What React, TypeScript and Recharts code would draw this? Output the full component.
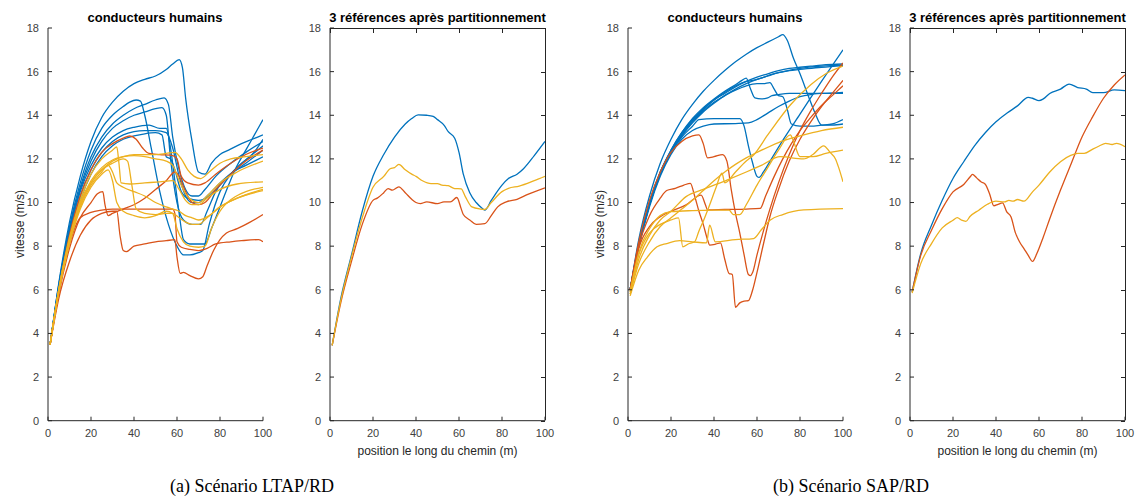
import React from 'react';
import { LineChart, Line, XAxis, YAxis } from 'recharts';

type Pt = [number, number];

const xTicks = [0, 20, 40, 60, 80, 100];
const yTicks = [0, 2, 4, 6, 8, 10, 12, 14, 16, 18];

// ---------- (a) LTAP/RD : conducteurs humains ----------
const ltapB1: Pt[] = [[1,3.5],[5,6.3],[10,9.1],[15,11.2],[20,12.8],[25,13.9],[30,14.6],[35,15.1],[40,15.45],[45,15.65],[50,15.8],[55,16.1],[58,16.35],[61,16.55],[62.5,16.2],[64,14.8],[67,12.8],[70,11.4],[73,11.3],[76,11.8],[80,12.2],[84,12.4],[90,12.7],[95,12.9],[100,13.1]];
const ltapB2: Pt[] = [[1,3.5],[5,6.2],[10,8.9],[15,10.9],[20,12.4],[25,13.4],[30,14.0],[35,14.4],[38,14.6],[41,14.7],[43,14.65],[45,14.0],[48,12.5],[52,10.5],[56,9.0],[60,8.0],[63,7.6],[66,7.6],[70,7.7],[72,7.8],[75,9.0],[80,10.5],[85,11.3],[90,11.8],[95,12.2],[100,12.9]];
const ltapB3: Pt[] = [[1,3.5],[5,6.2],[10,8.8],[15,10.7],[20,12.1],[25,13.0],[30,13.6],[35,14.0],[40,14.3],[45,14.5],[50,14.7],[54,14.8],[56,14.5],[58,13.0],[61,11.5],[64,10.6],[67,10.3],[70,10.3],[73,10.6],[78,11.2],[85,11.8],[92,12.3],[100,12.8]];
const ltapB4: Pt[] = [[1,3.5],[5,6.1],[10,8.7],[15,10.6],[20,11.9],[25,12.8],[30,13.4],[35,13.75],[40,14.0],[45,14.15],[50,14.3],[53,14.35],[55,14.0],[57,12.0],[60,10.0],[63,9.2],[67,9.0],[71,9.0],[74,9.6],[78,10.5],[85,11.3],[92,11.8],[100,12.4]];
const ltapB5: Pt[] = [[1,3.5],[5,6.1],[10,8.6],[15,10.5],[20,11.7],[25,12.5],[30,13.0],[35,13.3],[40,13.45],[47,13.55],[52,13.4],[55,13.4],[57,12.5],[59,11.0],[61,9.5],[63,8.3],[66,8.1],[73,8.1],[76,8.8],[80,9.8],[84,10.8],[87,11.5],[92,12.4],[96,13.1],[100,13.8]];
const ltapB6: Pt[] = [[1,3.5],[5,6.0],[10,8.5],[15,10.3],[20,11.5],[25,12.3],[30,12.8],[35,13.1],[40,13.25],[45,13.3],[50,13.3],[55,13.2],[58,12.5],[61,11.2],[64,10.3],[67,10.0],[70,10.0],[74,10.3],[80,10.9],[86,11.4],[92,11.7],[100,12.1]];
const ltapB7: Pt[] = [[1,3.5],[5,6.0],[10,8.4],[15,10.1],[20,11.3],[25,12.1],[30,12.6],[35,12.9],[40,13.05],[45,13.15],[50,13.2],[53,13.1],[55,12.1],[57,12.0],[59,11.5],[62,10.5],[65,10.2],[70,10.1],[75,10.3],[80,10.8],[88,11.6],[95,12.2],[100,12.6]];

const ltapO1: Pt[] = [[1,3.5],[5,6.0],[10,8.5],[15,10.3],[20,11.5],[25,12.3],[30,12.7],[35,12.95],[38,13.05],[41,12.9],[44,12.5],[47,12.25],[52,12.2],[58,12.15],[60,12.0],[62,11.2],[65,10.9],[70,10.8],[73,10.9],[78,11.3],[85,11.8],[92,12.2],[100,12.5]];
const ltapO2: Pt[] = [[1,3.5],[5,5.8],[10,7.9],[15,9.3],[20,10.0],[23,10.4],[25.5,10.5],[26.5,9.9],[28,9.4],[30,9.5],[35,9.7],[40,9.9],[45,10.2],[50,10.6],[55,11.0],[59,11.4],[61,11.2],[64,10.5],[67,10.0],[70,9.9],[73,10.0],[78,10.6],[85,11.3],[92,11.9],[100,12.4]];
const ltapO3: Pt[] = [[1,3.5],[5,5.6],[10,7.3],[15,8.5],[20,9.2],[25,9.5],[30,9.6],[32,9.6],[33.5,8.5],[35,7.8],[36.5,7.75],[40,8.0],[45,8.1],[50,8.2],[55,8.25],[59,8.3],[60,7.5],[61.5,6.75],[63,6.8],[66,6.65],[70,6.5],[72,6.6],[74,7.1],[77,7.8],[80,8.3],[83,8.6],[88,8.8],[94,9.1],[100,9.45]];
const ltapO4: Pt[] = [[1,3.5],[5,5.9],[10,8.1],[15,9.3],[20,9.55],[25,9.65],[30,9.7],[40,9.7],[50,9.7],[58,9.7],[59,9.5],[60,8.2],[62,7.95],[66,7.85],[70,7.8],[74,7.9],[78,8.1],[85,8.2],[90,8.25],[98,8.3],[100,8.2]];

const ltapY1: Pt[] = [[1,3.5],[5,6.0],[10,8.3],[15,9.9],[20,10.9],[25,11.5],[30,11.9],[35,12.1],[40,12.2],[45,12.2],[50,12.2],[55,12.25],[59,12.3],[62,12.0],[65,11.5],[68,11.2],[71,11.1],[75,11.4],[80,11.8],[85,12.0],[92,12.1],[100,12.2]];
const ltapY2: Pt[] = [[1,3.5],[5,6.0],[10,8.4],[15,10.1],[20,11.3],[25,12.0],[30,12.4],[32,12.55],[33,11.8],[34,10.9],[38,10.85],[45,10.9],[52,10.95],[58,11.0],[61,10.6],[64,10.1],[67,9.9],[70,9.9],[74,10.2],[80,10.6],[88,10.85],[100,10.95]];
const ltapY3: Pt[] = [[1,3.5],[5,5.9],[10,8.2],[15,9.9],[20,10.9],[25,11.5],[30,11.8],[35,12.0],[37,11.9],[39,10.8],[41,9.7],[45,9.5],[50,9.45],[55,9.5],[58,9.5],[61,9.3],[64,9.1],[67,9.0],[70,9.0],[74,9.3],[80,9.8],[88,10.2],[100,10.6]];
const ltapY4: Pt[] = [[1,3.5],[5,5.9],[10,8.1],[15,9.7],[20,10.7],[25,11.3],[28,11.5],[30,11.0],[32,10.0],[35,9.6],[40,9.4],[45,9.3],[50,9.4],[55,9.6],[58,9.5],[60,8.8],[63,8.2],[66,8.0],[70,7.95],[73,8.0],[76,8.8],[80,9.6],[86,10.2],[92,10.5],[100,10.7]];
const ltapY5: Pt[] = [[1,3.5],[5,6.0],[10,8.3],[15,10.0],[20,11.0],[25,11.6],[30,11.95],[35,12.1],[40,12.15],[45,12.1],[50,12.0],[55,11.9],[58,11.7],[61,11.0],[64,10.4],[67,10.1],[70,10.0],[74,10.3],[80,10.9],[88,11.4],[100,11.9]];
const ltapY6: Pt[] = [[1,3.5],[5,5.9],[10,8.2],[15,9.8],[20,10.8],[25,11.4],[28,11.7],[30,11.4],[32,10.9],[35,10.7],[40,10.5],[45,10.3],[50,10.0],[55,9.8],[58,9.7],[61,9.6],[64,9.4],[67,9.3],[70,9.2],[75,9.4],[80,9.8],[88,10.2],[100,10.55]];

// ---------- (a) LTAP/RD : 3 références ----------
const ltapRefBlue: Pt[] = [[1,3.45],[5,5.6],[10,7.6],[15,9.6],[20,11.2],[25,12.2],[30,13.0],[35,13.6],[38,13.85],[41,14.02],[45,14.0],[48,13.95],[50,13.8],[53,13.55],[55,13.25],[58,12.95],[60,12.3],[62,11.3],[65,10.45],[68,10.0],[71,9.72],[72,9.65],[75,10.1],[80,10.8],[83,11.1],[87,11.3],[90,11.55],[95,12.15],[100,12.8]];
const ltapRefOrange: Pt[] = [[1,3.45],[5,5.4],[10,7.3],[15,9.0],[20,10.1],[22,10.2],[25,10.45],[27,10.64],[29,10.57],[32,10.72],[35,10.45],[38,10.15],[40,10.0],[42,9.95],[45,10.03],[50,9.95],[53,10.03],[56,10.03],[59,10.23],[61,9.72],[62,9.45],[65,9.2],[68,9.0],[72,9.03],[75,9.4],[78,9.8],[82,10.03],[87,10.15],[92,10.37],[100,10.67]];
const ltapRefYellow: Pt[] = [[1,3.45],[5,5.5],[10,7.5],[15,9.3],[20,10.7],[25,11.2],[28,11.55],[30,11.6],[32,11.75],[35,11.5],[38,11.3],[40,11.2],[43,11.0],[47,10.87],[50,10.87],[52,10.8],[55,10.77],[58,10.64],[61,10.63],[63,10.26],[66,9.8],[70,9.7],[72,9.68],[75,10.0],[80,10.5],[83,10.65],[88,10.75],[95,11.0],[100,11.2]];

// ---------- (b) SAP/RD : conducteurs humains ----------
const sapB1: Pt[] = [[1,6.0],[5,8.3],[10,10.3],[15,11.8],[20,12.9],[25,13.8],[30,14.5],[35,15.1],[40,15.6],[45,16.05],[50,16.45],[55,16.8],[60,17.1],[65,17.35],[70,17.6],[72,17.7],[74,17.45],[77,16.6],[80,15.9],[84,14.85],[87,14.1],[90,13.55],[95,13.55],[100,13.6]];
const sapB2: Pt[] = [[1,6.0],[5,8.1],[10,10.0],[15,11.4],[20,12.4],[25,13.2],[30,13.85],[35,14.35],[40,14.75],[45,15.1],[50,15.4],[53,15.6],[55,15.7],[57,15.2],[59,14.8],[62,14.75],[65,14.8],[67,14.9],[70,14.95],[75,15.0],[80,15.0],[90,15.0],[100,15.05]];
const sapB3: Pt[] = [[1,6.0],[5,8.1],[10,10.0],[15,11.4],[20,12.4],[25,13.2],[30,13.8],[35,14.3],[40,14.7],[45,15.0],[50,15.3],[55,15.55],[60,15.75],[65,15.9],[70,16.05],[75,16.15],[80,16.2],[85,16.25],[90,16.3],[95,16.33],[100,16.35]];
const sapB4: Pt[] = [[1,6.0],[5,8.0],[10,9.9],[15,11.3],[20,12.3],[25,13.1],[30,13.7],[35,14.2],[40,14.6],[45,14.9],[50,15.2],[55,15.45],[60,15.65],[65,15.8],[70,15.95],[75,16.05],[80,16.1],[90,16.2],[100,16.28]];
const sapB5: Pt[] = [[1,6.0],[5,8.0],[10,9.9],[15,11.3],[20,12.3],[25,13.05],[30,13.65],[35,14.15],[40,14.55],[45,14.9],[50,15.15],[55,15.35],[60,15.45],[63,15.45],[66,15.5],[68,15.2],[70,14.9],[72,14.85],[74,14.3],[76,13.6],[80,13.5],[85,13.5],[90,13.55],[95,13.6],[100,13.8]];
const sapB6: Pt[] = [[1,6.0],[5,8.0],[10,9.9],[15,11.3],[20,12.3],[25,13.0],[30,13.5],[33,13.8],[40,13.85],[45,13.85],[52,13.85],[54,13.5],[56,12.6],[58,11.8],[60,11.2],[61,11.15],[63,11.4],[67,12.05],[72,12.85],[80,14.05],[90,15.55],[100,17.0]];
const sapB7: Pt[] = [[1,6.0],[5,7.95],[10,9.8],[15,11.2],[20,12.2],[25,12.9],[30,13.3],[35,13.5],[40,13.6],[50,13.62],[56,13.65],[60,13.8],[65,14.1],[70,14.4],[75,14.65],[80,14.85],[85,14.95],[90,15.0],[100,15.0]];
const sapB8: Pt[] = [[1,6.0],[5,8.05],[10,9.95],[15,11.35],[20,12.35],[25,13.15],[30,13.75],[35,14.25],[40,14.7],[45,15.05],[50,15.35],[55,15.55],[58,15.6],[62,15.7],[66,15.85],[70,15.95],[80,16.15],[90,16.25],[100,16.3]];

const sapO1: Pt[] = [[1,6.0],[5,8.2],[10,10.1],[15,11.4],[20,12.3],[25,12.8],[30,13.05],[33,13.1],[35,12.7],[37,12.05],[40,12.1],[44,12.2],[46,11.9],[48,10.6],[50,9.5],[52,8.6],[54,7.6],[56,6.7],[57,6.65],[58,6.8],[60,7.6],[63,8.7],[66,9.7],[70,10.9],[75,12.2],[80,13.3],[85,14.2],[90,15.0],[95,15.75],[100,16.4]];
const sapO2: Pt[] = [[1,6.0],[5,8.0],[10,9.4],[15,10.2],[18,10.55],[22,10.65],[26,10.8],[29,10.88],[31,10.3],[33,9.6],[35,9.0],[37,8.3],[38,8.05],[41,8.1],[43,8.15],[45,7.4],[47,6.75],[48.5,6.7],[50,5.2],[52,5.4],[54,5.48],[56,5.5],[58,6.0],[60,6.8],[63,8.1],[66,9.35],[70,10.6],[75,11.9],[80,12.9],[85,13.7],[90,14.4],[95,15.0],[100,15.6]];
const sapO3: Pt[] = [[1,6.0],[5,7.9],[10,8.9],[15,9.35],[20,9.6],[27,9.89],[34,10.34],[36,9.9],[37,9.66],[45,9.68],[55,9.7],[61.5,9.73],[64,10.3],[68,11.2],[72,12.0],[76,12.7],[80,13.3],[85,13.9],[90,14.45],[95,14.9],[100,15.35]];

const sapY1: Pt[] = [[1,5.72],[5,6.9],[9,7.5],[13.5,7.97],[18,8.12],[24,8.25],[30,8.2],[36.5,8.15],[38,8.96],[40.6,8.2],[50,8.3],[58.4,8.35],[62,8.75],[66.2,9.2],[72,9.45],[81.7,9.66],[100,9.72]];
const sapY2: Pt[] = [[1,5.9],[5,7.6],[10,8.6],[15,9.0],[20,9.2],[23.5,9.3],[25.5,7.97],[28,8.1],[31,8.2],[33,8.7],[35.2,9.19],[38,9.9],[41,10.7],[43.7,11.35],[45,10.9],[50,11.4],[55,11.9],[58.4,12.18],[65,13.1],[75.5,14.47],[85,15.4],[92,15.9],[100,16.25]];
const sapY3: Pt[] = [[1,5.9],[5,7.7],[10,8.8],[15,9.4],[20,9.58],[30,9.63],[40,9.65],[47,9.65],[49,9.45],[52,9.45],[55,9.9],[60,10.8],[65,11.6],[70,12.4],[75.5,13.1],[77,12.8],[80,12.1],[86,12.1],[92,12.25],[100,12.4]];
const sapY4: Pt[] = [[1,5.8],[5,7.2],[10,8.2],[15,8.9],[20,9.3],[25,9.7],[30,10.1],[35,10.55],[40,11.0],[45,11.4],[50,11.75],[55,12.05],[60,12.3],[70,12.75],[80,13.05],[90,13.3],[100,13.45]];
const sapY5: Pt[] = [[1,5.8],[5,7.4],[10,8.5],[15,9.2],[20,9.6],[27,10.27],[35,10.6],[46,11.03],[55,11.4],[62,11.7],[70.8,12.1],[81.6,12.0],[86,12.2],[91,12.6],[94,12.3],[96.5,12.0],[98,11.6],[100,10.95]];

// ---------- (b) SAP/RD : 3 références ----------
const sapRefBlue: Pt[] = [[1,5.9],[5,7.66],[10,8.96],[15,10.1],[20,11.1],[25,11.87],[30,12.6],[35,13.2],[40,13.7],[45,14.09],[50,14.43],[55,14.82],[57,14.78],[60,14.67],[62,14.75],[65,15.0],[70,15.2],[74,15.43],[78,15.27],[82,15.2],[85,15.04],[90,15.04],[95,15.16],[100,15.13]];
const sapRefOrange: Pt[] = [[1,5.9],[5,7.58],[10,8.73],[15,9.72],[20,10.49],[25,10.83],[28,11.18],[29,11.29],[31,11.13],[33,10.95],[35,10.84],[37,10.4],[39,9.85],[41,9.92],[43,9.98],[45,9.57],[47,9.34],[49,8.62],[51,8.19],[53,7.89],[55,7.58],[57,7.3],[59,7.66],[62,8.42],[65,9.26],[70,10.57],[75,11.79],[80,13.0],[85,13.94],[90,14.78],[95,15.39],[100,15.85]];
const sapRefYellow: Pt[] = [[1,5.85],[5,7.2],[10,8.12],[15,8.84],[20,9.19],[22,9.31],[24,9.19],[26,9.14],[28,9.37],[32,9.65],[36,9.92],[40,10.06],[44,10.03],[46,10.1],[48,10.06],[50,10.14],[53,10.06],[57,10.49],[60,10.8],[65,11.4],[70,11.87],[75,12.17],[78,12.25],[81,12.25],[85,12.45],[88,12.59],[91,12.71],[94,12.66],[96,12.71],[100,12.56]];

const BLUE = '#0072BD';
const ORANGE = '#D95319';
const YELLOW = '#EDB120';
const SANS = '"Liberation Sans", Arial, Helvetica, sans-serif';
const AXIS = '#262626';

// plot-area geometry inside each panel wrapper
const PLOT_X = 40;
const PLOT_Y = 28;
const PLOT_W = 215;
const PLOT_H = 392.7;

const toRows = (p: Pt[]) => p.map(([x, y]) => ({ x, y }));

type PanelProps = { plotLeft: number; blue: Pt[][]; orange: Pt[][]; yellow: Pt[][]; boxed: boolean };

function Panel({ plotLeft, blue, orange, yellow, boxed }: PanelProps) {
  const tickStyle = { fill: '#404040', fontSize: 11, fontFamily: SANS };
  const groups: [string, Pt[][]][] = [[BLUE, blue], [ORANGE, orange], [YELLOW, yellow]];
  const xMax = xTicks[xTicks.length - 1];
  const yMax = yTicks[yTicks.length - 1];
  return (
    <div style={{ position: 'absolute', left: plotLeft - PLOT_X, top: 0, width: 275, height: 460 }}>
      <LineChart width={275} height={460} margin={{ top: PLOT_Y, right: 20, bottom: 14.3, left: 0 }}>
        <XAxis dataKey="x" type="number" domain={[0, xMax]} ticks={xTicks} allowDataOverflow
          height={25} tickSize={-4} tickMargin={12} tick={tickStyle}
          axisLine={{ stroke: AXIS }} tickLine={{ stroke: AXIS }} />
        <YAxis type="number" domain={[0, yMax]} ticks={yTicks} allowDataOverflow
          width={PLOT_X} tickSize={-4} tickMargin={13} tick={tickStyle}
          axisLine={{ stroke: AXIS }} tickLine={{ stroke: AXIS }} />
        {groups.map(([color, list], gi) =>
          list.map((pts, i) => (
            <Line key={`${gi}-${i}`} data={toRows(pts)} dataKey="y" type="monotone" stroke={color}
              strokeWidth={1.3} dot={false} activeDot={false} isAnimationActive={false} />
          ))
        )}
      </LineChart>
      {boxed && (
        <div style={{ position: 'absolute', left: PLOT_X, top: PLOT_Y - 0.5, width: PLOT_W + 0.5, height: PLOT_H,
          borderTop: `1px solid ${AXIS}`, borderRight: `1px solid ${AXIS}`, boxSizing: 'border-box', pointerEvents: 'none' }}>
          {xTicks.map((t) => (
            <div key={`tx${t}`} style={{ position: 'absolute', left: (t / xMax) * PLOT_W - 0.5, top: 0, width: 1, height: 4, background: AXIS }} />
          ))}
          {yTicks.map((t) => (
            <div key={`ty${t}`} style={{ position: 'absolute', right: 0, top: (1 - t / yMax) * PLOT_H - 0.5, width: 4, height: 1, background: AXIS }} />
          ))}
        </div>
      )}
    </div>
  );
}

const abs = (left: number, top: number, extra: React.CSSProperties = {}): React.CSSProperties => ({
  position: 'absolute', left, top, transform: 'translate(-50%, -50%)', whiteSpace: 'nowrap', ...extra,
});

export default function App() {
  const titleStyle: React.CSSProperties = { fontFamily: SANS, fontWeight: 'bold', fontSize: 13, color: '#000' };
  const labelStyle: React.CSSProperties = { fontFamily: SANS, fontSize: 12, color: '#262626' };
  const capStyle: React.CSSProperties = { fontFamily: '"Liberation Serif", "DejaVu Serif", serif', fontSize: 18, color: '#000' };
  return (
    <div style={{ position: 'absolute', left: 0, top: 0, width: 1142, height: 501, background: '#fff', overflow: 'hidden' }}>
      <Panel plotLeft={47.7} blue={[ltapB1, ltapB2, ltapB3, ltapB4, ltapB5, ltapB6, ltapB7]}
        orange={[ltapO1, ltapO2, ltapO3, ltapO4]} yellow={[ltapY1, ltapY2, ltapY3, ltapY4, ltapY5, ltapY6]} boxed={false} />
      <Panel plotLeft={330} blue={[ltapRefBlue]} orange={[ltapRefOrange]} yellow={[ltapRefYellow]} boxed />
      <Panel plotLeft={627.7} blue={[sapB1, sapB2, sapB3, sapB4, sapB5, sapB6, sapB7, sapB8]}
        orange={[sapO1, sapO2, sapO3]} yellow={[sapY1, sapY2, sapY3, sapY4, sapY5]} boxed={false} />
      <Panel plotLeft={910} blue={[sapRefBlue]} orange={[sapRefOrange]} yellow={[sapRefYellow]} boxed />

      <div style={abs(155, 17, titleStyle)}>conducteurs humains</div>
      <div style={abs(437.5, 17, titleStyle)}>3 références après partitionnement</div>
      <div style={abs(735, 17, titleStyle)}>conducteurs humains</div>
      <div style={abs(1017.5, 17, titleStyle)}>3 références après partitionnement</div>

      <div style={abs(20, 224, { ...labelStyle, transform: 'translate(-50%, -50%) rotate(-90deg)' })}>vitesse (m/s)</div>
      <div style={abs(600, 224, { ...labelStyle, transform: 'translate(-50%, -50%) rotate(-90deg)' })}>vitesse (m/s)</div>
      <div style={abs(437.5, 451, labelStyle)}>position le long du chemin (m)</div>
      <div style={abs(1017.5, 451, labelStyle)}>position le long du chemin (m)</div>

      <div style={abs(252, 486, capStyle)}>(a) Scénario LTAP/RD</div>
      <div style={abs(851, 486, capStyle)}>(b) Scénario SAP/RD</div>
    </div>
  );
}
